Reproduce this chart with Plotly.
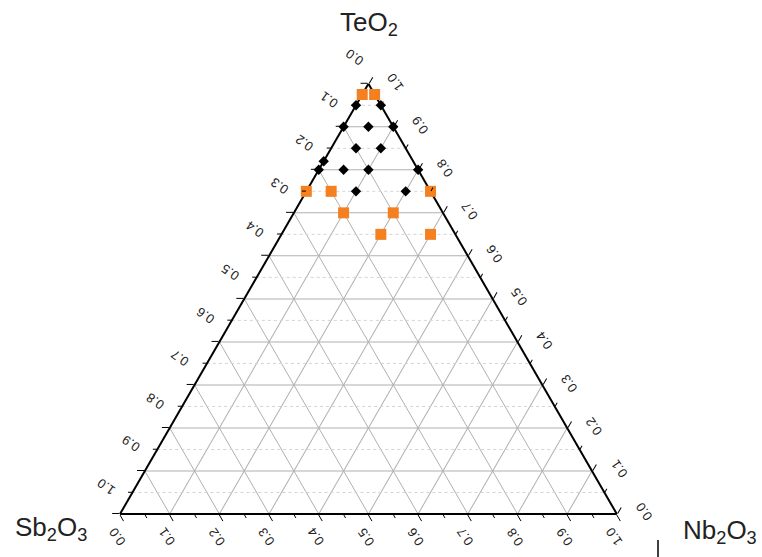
import math
import plotly.graph_objects as go

W, H = 762, 557

# ---- data: (TeO2, Sb2O3, Nb2O3) molar fractions ----
orange_teo2 = [0.975, 0.975, 0.75, 0.75, 0.75, 0.70, 0.70, 0.65, 0.65]
orange_sb2o3 = [0.025, 0.0, 0.25, 0.20, 0.0, 0.20, 0.10, 0.15, 0.05]
orange_nb2o3 = [0.0, 0.025, 0.0, 0.05, 0.25, 0.10, 0.20, 0.20, 0.30]

black_teo2 = [0.95, 0.95, 0.90, 0.90, 0.90, 0.85, 0.85, 0.82, 0.80, 0.80, 0.80, 0.80, 0.75, 0.75]
black_sb2o3 = [0.05, 0.0, 0.10, 0.05, 0.0, 0.10, 0.05, 0.18, 0.20, 0.15, 0.10, 0.0, 0.15, 0.05]
black_nb2o3 = [0.0, 0.05, 0.0, 0.05, 0.10, 0.05, 0.10, 0.0, 0.0, 0.05, 0.10, 0.20, 0.10, 0.20]

tick_values = [0.0, 0.1, 0.2, 0.3, 0.4, 0.5, 0.6, 0.7, 0.8, 0.9, 1.0]
tick_labels = ["0.0", "0.1", "0.2", "0.3", "0.4", "0.5", "0.6", "0.7", "0.8", "0.9", "1.0"]
minor_levels = [0.05, 0.15, 0.25, 0.35, 0.45, 0.55, 0.65, 0.75, 0.85, 0.95]

title_top = "TeO<sub>2</sub>"
title_left = "Sb<sub>2</sub>O<sub>3</sub>"
title_right = "Nb<sub>2</sub>O<sub>3</sub>"

# ---- layout geometry ----
DOM_X = [0.1575, 0.8095]
DOM_Y = [0.06841, 0.85835]

wmax = W * (DOM_X[1] - DOM_X[0])
hmax = H * (DOM_Y[1] - DOM_Y[0])
r = 2 / math.sqrt(3)
if wmax > r * hmax:
    th = hmax
    tw = th * r
else:
    tw = wmax
    th = tw / r
x0 = W * (DOM_X[0] + DOM_X[1]) / 2 - tw / 2
y0 = H * (1 - (DOM_Y[0] + DOM_Y[1]) / 2) - th / 2


def to_px(a, c):
    return x0 + tw * (c + a / 2), y0 + th * (1 - a)


def to_paper(x, y):
    return x / W, 1 - y / H


FONT = "Liberation Sans, Arial, sans-serif"

fig = go.Figure()

# minor dotted grid (constant TeO2)
ma, mb, mc = [], [], []
for v in minor_levels:
    ma += [v, v, None]
    mb += [1 - v, 0, None]
    mc += [0, 1 - v, None]
fig.add_trace(go.Scatterternary(
    a=ma, b=mb, c=mc, mode="lines", subplot="ternary",
    line=dict(color="#d4d4d4", width=1, dash="dot"),
    hoverinfo="skip", showlegend=False, connectgaps=False,
))

fig.add_trace(go.Scatterternary(
    a=orange_teo2, b=orange_sb2o3, c=orange_nb2o3, mode="markers",
    subplot="ternary2", cliponaxis=False,
    marker=dict(symbol="square", size=11, color="#F5801F", line=dict(width=0)),
    showlegend=False,
))
fig.add_trace(go.Scatterternary(
    a=black_teo2, b=black_sb2o3, c=black_nb2o3, mode="markers",
    subplot="ternary2", cliponaxis=False,
    marker=dict(symbol="diamond", size=8, color="#000000", line=dict(width=0)),
    showlegend=False,
))

major_axis = dict(
    tick0=0, dtick=0.1, ticks="outside", ticklen=7, tickwidth=1.3,
    tickcolor="black", showticklabels=False, showline=True,
    linecolor="black", linewidth=2, showgrid=True, gridcolor="#b0b0b0",
    gridwidth=1, layer="above traces", title=dict(text=""), min=0,
)
minor_axis = dict(
    tick0=0.05, dtick=0.1, ticks="outside", ticklen=4, tickwidth=1.2,
    tickcolor="black", showticklabels=False, showline=False,
    showgrid=False, title=dict(text=""), min=0,
)

tick_font = dict(family=FONT, size=13, color="#222")
annotations = []
for v, t in zip(tick_values, tick_labels):
    # bottom axis: Nb2O3
    x, y = to_px(0, v)
    xp, yp = to_paper(x - 3, y + 23)
    annotations.append(dict(x=xp, y=yp, xref="paper", yref="paper", text=t,
                            showarrow=False, textangle=-125,
                            xanchor="center", yanchor="middle", font=tick_font))
    # right axis: TeO2
    x, y = to_px(v, 1 - v)
    xp, yp = to_paper(x + 27, y - 2)
    annotations.append(dict(x=xp, y=yp, xref="paper", yref="paper", text=t,
                            showarrow=False, textangle=-125,
                            xanchor="center", yanchor="middle", font=tick_font))
    # left axis: Sb2O3
    x, y = to_px(1 - v, 0)
    xp, yp = to_paper(x - 14, y - 27)
    annotations.append(dict(x=xp, y=yp, xref="paper", yref="paper", text=t,
                            showarrow=False, textangle=-145,
                            xanchor="center", yanchor="middle", font=tick_font))

title_font = dict(family=FONT, size=26, color="#222")
annotations += [
    dict(x=369 / W, y=1 - 24 / H, xref="paper", yref="paper", text=title_top,
         showarrow=False, xanchor="center", yanchor="middle", font=title_font),
    dict(x=51 / W, y=1 - 528 / H, xref="paper", yref="paper", text=title_left,
         showarrow=False, xanchor="center", yanchor="middle", font=title_font),
    dict(x=720 / W, y=1 - 531 / H, xref="paper", yref="paper", text=title_right,
         showarrow=False, xanchor="center", yanchor="middle", font=title_font),
]

fig.update_layout(
    width=W, height=H,
    margin=dict(l=0, r=0, t=0, b=0),
    paper_bgcolor="white",
    showlegend=False,
    ternary=dict(domain=dict(x=DOM_X, y=DOM_Y), sum=1, bgcolor="white",
                 aaxis=major_axis, baxis=major_axis, caxis=major_axis),
    ternary2=dict(domain=dict(x=DOM_X, y=DOM_Y), sum=1, bgcolor="rgba(0,0,0,0)",
                  aaxis=minor_axis, baxis=minor_axis, caxis=minor_axis),
    annotations=annotations,
    shapes=[dict(type="line", xref="paper", yref="paper",
                 x0=658 / W, x1=658 / W, y0=0, y1=1 - 540 / H,
                 line=dict(color="black", width=1.5))],
)

fig.write_html("out.html")
